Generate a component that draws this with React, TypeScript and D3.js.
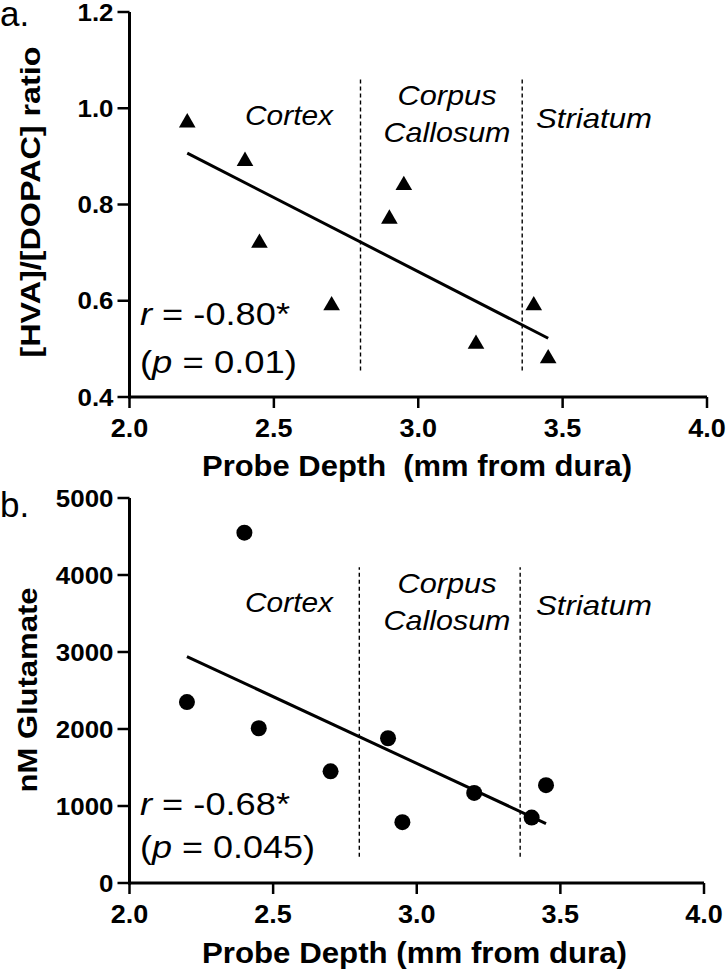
import React from "react";
import * as d3 from "d3";

// ---------- data ----------
const xTicks = [2.0, 2.5, 3.0, 3.5, 4.0];
const ratioTicks = [0.4, 0.6, 0.8, 1.0, 1.2];
const glutTicks = [0, 1000, 2000, 3000, 4000, 5000];

const depthA = [2.2, 2.4, 2.45, 2.7, 2.9, 2.95, 3.2, 3.4, 3.45];
const ratioA = [0.97, 0.89, 0.72, 0.59, 0.77, 0.84, 0.51, 0.59, 0.48];

const depthB = [2.2, 2.4, 2.45, 2.7, 2.9, 2.95, 3.2, 3.4, 3.45];
const glutB = [2350, 4550, 2010, 1450, 1880, 790, 1170, 850, 1270];

const regionBounds = [2.8, 3.36];
const ratioDashSpan = [0.455, 1.065];
const glutDashSpan = [340, 4100];

const FONT = "'Liberation Sans', Arial, Helvetica, sans-serif";

function fit(xs: number[], ys: number[]) {
  const mx = d3.mean(xs)!;
  const my = d3.mean(ys)!;
  let sxy = 0, sxx = 0;
  xs.forEach((x, i) => {
    sxy += (x - mx) * (ys[i] - my);
    sxx += (x - mx) * (x - mx);
  });
  const slope = sxy / sxx;
  const x0 = d3.min(xs)!, x1 = d3.max(xs)!;
  return [
    [x0, my + slope * (x0 - mx)],
    [x1, my + slope * (x1 - mx)],
  ];
}

type PanelProps = {
  letter: string;
  letterY: number;
  xRange: [number, number];
  yDomain: [number, number];
  yRange: [number, number];
  yTicks: number[];
  yFmt: (v: number) => string;
  xs: number[];
  ys: number[];
  marker: "triangle" | "circle";
  dashSpan: number[];
  yLabel: string;
  yLabelX: number;
  yLabelCY: number;
  yLabelLen: number;
  xLabel: string;
  xLabelY: number;
  xLabelLen: number;
  cortexY: number;
  corpusY: number;
  callosumY: number;
  striatumY: number;
  rText: string;
  pText: string;
  rY: number;
  pY: number;
  pLen: number;
};

function Panel(p: PanelProps) {
  const x = d3.scaleLinear().domain([2, 4]).range(p.xRange);
  const y = d3.scaleLinear().domain(p.yDomain).range(p.yRange);
  const axisY = p.yRange[0];
  const axisX = p.xRange[0];
  const line = fit(p.xs, p.ys);
  const lineGen = d3.line<number[]>().x((d) => x(d[0])).y((d) => y(d[1]));
  const tri = d3.symbol(d3.symbolTriangle, 120)();
  return (
    <g fontFamily={FONT} fill="#000">
      {/* panel letter */}
      <text x={0} y={p.letterY} fontSize={35}>{p.letter}</text>

      {/* dashed region lines */}
      {regionBounds.map((b, i) => (
        <line
          key={"d" + i}
          x1={x(b)}
          x2={x(b)}
          y1={y(p.dashSpan[0])}
          y2={y(p.dashSpan[1])}
          stroke="#000"
          strokeWidth={1.4}
          strokeDasharray="4,3"
        />
      ))}

      {/* region labels */}
      <text x={289} y={p.cortexY} fontSize={28} fontStyle="italic" textAnchor="middle" textLength={88} lengthAdjust="spacingAndGlyphs">Cortex</text>
      <text x={447} y={p.corpusY} fontSize={28} fontStyle="italic" textAnchor="middle" textLength={99} lengthAdjust="spacingAndGlyphs">Corpus</text>
      <text x={447} y={p.callosumY} fontSize={28} fontStyle="italic" textAnchor="middle" textLength={127} lengthAdjust="spacingAndGlyphs">Callosum</text>
      <text x={594} y={p.striatumY} fontSize={28} fontStyle="italic" textAnchor="middle" textLength={116} lengthAdjust="spacingAndGlyphs">Striatum</text>

      {/* stats */}
      <text x={140} y={p.rY} fontSize={31} textLength={150} lengthAdjust="spacingAndGlyphs">
        <tspan fontStyle="italic">r</tspan> = -0.{p.rText}*
      </text>
      <text x={140} y={p.pY} fontSize={31} textLength={p.pLen} lengthAdjust="spacingAndGlyphs">
        (<tspan fontStyle="italic">p</tspan> = {p.pText})
      </text>

      {/* regression line */}
      <path d={lineGen(line)!} fill="none" stroke="#000" strokeWidth={3} />

      {/* markers */}
      {p.xs.map((v, i) =>
        p.marker === "triangle" ? (
          <path key={"m" + i} d={tri!} transform={`translate(${x(v)},${y(p.ys[i])})`} fill="#000" />
        ) : (
          <circle key={"m" + i} cx={x(v)} cy={y(p.ys[i])} r={8} fill="#000" />
        )
      )}

      {/* axes */}
      <line x1={axisX} x2={axisX} y1={y(p.yDomain[1])} y2={axisY + 1.5} stroke="#000" strokeWidth={3} />
      <line x1={axisX - 1.5} x2={p.xRange[1]} y1={axisY} y2={axisY} stroke="#000" strokeWidth={3} />
      {p.yTicks.map((t) => (
        <g key={"yt" + t}>
          <line x1={axisX - 12} x2={axisX} y1={y(t)} y2={y(t)} stroke="#000" strokeWidth={2.5} />
          <text
            transform={`translate(${axisX - 16},${y(t) + 8.5}) scale(1.08,1)`}
            fontSize={24}
            fontWeight="bold"
            textAnchor="end"
          >
            {p.yFmt(t)}
          </text>
        </g>
      ))}
      {xTicks.map((t) => (
        <g key={"xt" + t}>
          <line x1={x(t)} x2={x(t)} y1={axisY} y2={axisY + 11} stroke="#000" strokeWidth={2.5} />
          <text
            transform={`translate(${x(t)},${axisY + 40}) scale(1.08,1)`}
            fontSize={25}
            fontWeight="bold"
            textAnchor="middle"
          >
            {t.toFixed(1)}
          </text>
        </g>
      ))}

      {/* axis titles */}
      <text
        transform={`translate(${p.yLabelX},${p.yLabelCY}) rotate(-90)`}
        fontSize={28}
        fontWeight="bold"
        textAnchor="middle"
        textLength={p.yLabelLen}
        lengthAdjust="spacingAndGlyphs"
      >
        {p.yLabel}
      </text>
      <text
        x={202}
        y={p.xLabelY}
        fontSize={30}
        fontWeight="bold"
        textLength={p.xLabelLen}
        lengthAdjust="spacingAndGlyphs"
        style={{ whiteSpace: "pre" }}
      >
        {p.xLabel}
      </text>
    </g>
  );
}

export default function App() {
  return (
    <svg
      width={727}
      height={973}
      style={{ position: "absolute", left: 0, top: 0, background: "#fff" }}
    >
      <rect width={727} height={973} fill="#fff" />
      <Panel
        letter="a."
        letterY={26}
        xRange={[129.5, 707]}
        yDomain={[0.4, 1.2]}
        yRange={[397, 12]}
        yTicks={ratioTicks}
        yFmt={(v) => v.toFixed(1)}
        xs={depthA}
        ys={ratioA}
        marker="triangle"
        dashSpan={ratioDashSpan}
        yLabel="[HVA]/[DOPAC] ratio"
        yLabelX={40}
        yLabelCY={202}
        yLabelLen={311}
        xLabel="Probe Depth  (mm from dura)"
        xLabelY={476}
        xLabelLen={430}
        cortexY={125}
        corpusY={105}
        callosumY={142}
        striatumY={128}
        rText="80"
        pText="0.01"
        rY={325}
        pY={373}
        pLen={157}
      />
      <Panel
        letter="b."
        letterY={517}
        xRange={[129.5, 704]}
        yDomain={[0, 5000]}
        yRange={[883, 498]}
        yTicks={glutTicks}
        yFmt={(v) => String(v)}
        xs={depthB}
        ys={glutB}
        marker="circle"
        dashSpan={glutDashSpan}
        yLabel="nM Glutamate"
        yLabelX={37}
        yLabelCY={690}
        yLabelLen={205}
        xLabel="Probe Depth (mm from dura)"
        xLabelY={963}
        xLabelLen={425}
        cortexY={612}
        corpusY={593}
        callosumY={630}
        striatumY={615}
        rText="68"
        pText="0.045"
        rY={815}
        pY={858}
        pLen={175}
      />
    </svg>
  );
}
